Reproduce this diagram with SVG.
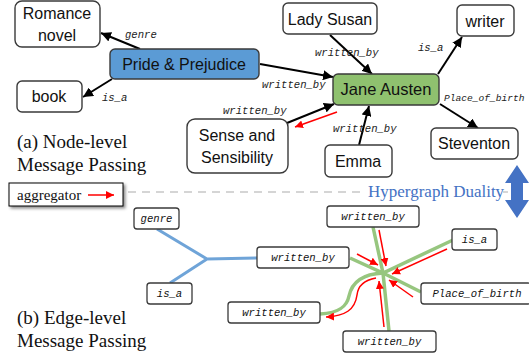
<svg xmlns="http://www.w3.org/2000/svg" width="529" height="354" viewBox="0 0 529 354">
<style>
.nb{fill:#fff;stroke:#3a3a3a;stroke-width:1.4}
.nt{font-family:"Liberation Sans",Arial,sans-serif;font-size:16px;fill:#111;text-anchor:middle}
.lb{font-family:"Liberation Mono","Courier New",monospace;font-style:italic;font-size:10.6px;fill:#222}
.eb{fill:#fff;stroke:#3a3a3a;stroke-width:1.3}
.et{font-family:"Liberation Mono","Courier New",monospace;font-style:italic;font-size:10.6px;fill:#111;text-anchor:middle}
.cap{font-family:"Liberation Serif","Times New Roman",serif;font-size:19px;fill:#111}
.ka{stroke:#000;stroke-width:2;fill:none;marker-end:url(#ah)}
.ra{stroke:#ff0000;stroke-width:1.5;fill:none;marker-end:url(#rh)}
.bl{stroke:#6fa4d8;stroke-width:3;fill:none}
.gl{stroke:#97c67f;stroke-width:3.5;fill:none}
</style>
<defs>
<marker id="ah" markerUnits="userSpaceOnUse" markerWidth="12" markerHeight="10" refX="10" refY="5" orient="auto">
<path d="M0,0 L10,5 L0,10 Z" fill="#000"/>
</marker>
<marker id="rh" markerUnits="userSpaceOnUse" markerWidth="9" markerHeight="8" refX="8" refY="4" orient="auto">
<path d="M0,0 L8,4 L0,8 Z" fill="#ff0000"/>
</marker>
<filter id="sh" x="-10%" y="-30%" width="130%" height="180%">
<feDropShadow dx="2" dy="2" stdDeviation="1.5" flood-color="#000" flood-opacity="0.45"/>
</filter>
</defs>

<g id="connectors">
<line class="ka" x1="140" y1="49" x2="101" y2="33"/>
<line class="ka" x1="112" y1="79" x2="83" y2="97"/>
<line class="ka" x1="260" y1="64" x2="333" y2="77"/>
<line class="ka" x1="287" y1="123" x2="334" y2="104"/>
<line class="ka" x1="330" y1="35" x2="372" y2="74"/>
<line class="ka" x1="438" y1="74" x2="462" y2="37"/>
<line class="ka" x1="440" y1="104" x2="478" y2="128"/>
<line class="ka" x1="359" y1="145" x2="369" y2="106"/>
<line class="ra" x1="337" y1="112" x2="295" y2="127"/>
<text class="lb" x="125" y="38">genre</text>
<text class="lb" x="102" y="101">is_a</text>
<text class="lb" x="262" y="88">written_by</text>
<text class="lb" x="223" y="114">written_by</text>
<text class="lb" x="315" y="56">written_by</text>
<text class="lb" x="418" y="51">is_a</text>
<text class="lb" x="444" y="101" style="font-size:9.6px">Place_of_birth</text>
<text class="lb" x="333" y="132">written_by</text>

<line x1="128" y1="192" x2="360" y2="192" stroke="#c8c8c8" stroke-width="1.5" stroke-dasharray="8,6"/>
<line x1="503" y1="192" x2="508" y2="192" stroke="#c8c8c8" stroke-width="1.5"/>

<path class="bl" d="M157,229 L207,259 L258,258 M207,259 L170,283"/>
<path class="gl" d="M373,227 L383,273 L389,331 M350,258 L383,273 L453,240 M421,292 L383,273"/>
<path class="gl" d="M320,314 C340,313 347,306 349,296 C352,282 362,274 383,273"/>
<line class="ra" x1="379" y1="230" x2="386" y2="266"/>
<line class="ra" x1="357" y1="254" x2="378" y2="265"/>
<line class="ra" x1="447" y1="249" x2="392" y2="274"/>
<line class="ra" x1="413" y1="297" x2="389" y2="280"/>
<line class="ra" x1="384" y1="327" x2="379" y2="281"/>
<path class="ra" d="M376,278 C365,280 358,285 357,295 C355,310 345,316 326,317"/>
</g>

<g id="romance"><rect class="nb" x="15" y="1" width="85" height="46" rx="7"/><text class="nt" x="57" y="19">Romance</text><text class="nt" x="57" y="41">novel</text></g>
<g id="pride"><rect x="110" y="49" width="149" height="30" rx="5" fill="#5b9bd5" stroke="#3a3a3a" stroke-width="1.4"/><text class="nt" x="184" y="70">Pride &amp; Prejudice</text></g>
<g id="book"><rect class="nb" x="17" y="81" width="65" height="31" rx="5"/><text class="nt" x="49" y="102">book</text></g>
<g id="lady-susan"><rect class="nb" x="283" y="3" width="94" height="31" rx="5"/><text class="nt" x="330" y="25">Lady Susan</text></g>
<g id="writer"><rect class="nb" x="457" y="5" width="57" height="31" rx="5"/><text class="nt" x="485" y="27">writer</text></g>
<g id="jane-austen"><rect x="333" y="74" width="106" height="31" rx="5" fill="#8fc16f" stroke="#3a3a3a" stroke-width="1.4"/><text class="nt" x="386" y="95" style="font-size:16.5px">Jane Austen</text></g>
<g id="steventon"><rect class="nb" x="431" y="128" width="87" height="31" rx="5"/><text class="nt" x="474" y="149">Steventon</text></g>
<g id="emma"><rect class="nb" x="325" y="145" width="67" height="32" rx="5"/><text class="nt" x="358" y="167">Emma</text></g>
<g id="sense"><rect class="nb" x="187" y="119" width="101" height="54" rx="8"/><text class="nt" x="237" y="141">Sense and</text><text class="nt" x="237" y="163">Sensibility</text></g>

<g id="caption-a"><text class="cap" x="17" y="148">(a) Node-level</text><text class="cap" x="17" y="171">Message Passing</text></g>
<g id="caption-b"><text class="cap" x="17" y="324">(b) Edge-level</text><text class="cap" x="17" y="347">Message Passing</text></g>

<g id="aggregator"><rect x="9" y="183" width="114" height="23" fill="#fff" stroke="#000" stroke-width="1" filter="url(#sh)"/><text x="17" y="200" font-family="'Liberation Serif','Times New Roman',serif" font-size="15" fill="#111">aggregator</text><line class="ra" x1="88" y1="195" x2="114" y2="195"/></g>

<g id="duality"><text x="368" y="197" font-family="'Liberation Serif','Times New Roman',serif" font-size="17" fill="#4472c4">Hypergraph Duality</text><polygon points="517,165 529,183 523,183 523,200 529,200 517,218 505,200 511,200 511,183 505,183" fill="#4472c4"/></g>

<g id="e-genre"><rect class="eb" x="134" y="208" width="45" height="21" rx="3"/><text class="et" x="156.5" y="222">genre</text></g>
<g id="e-isa-left"><rect class="eb" x="147" y="283" width="45" height="21" rx="3"/><text class="et" x="169.5" y="297">is_a</text></g>
<g id="e-wb-mid"><rect class="eb" x="257" y="247" width="92" height="21" rx="3"/><text class="et" x="303" y="261">written_by</text></g>
<g id="e-wb-top"><rect class="eb" x="327" y="206" width="92" height="21" rx="3"/><text class="et" x="373" y="220">written_by</text></g>
<g id="e-isa-right"><rect class="eb" x="452" y="229" width="45" height="21" rx="3"/><text class="et" x="474.5" y="243">is_a</text></g>
<g id="e-pob"><rect class="eb" x="421" y="283" width="110" height="21" rx="3"/><text class="et" x="477" y="297">Place_of_birth</text></g>
<g id="e-wb-left"><rect class="eb" x="228" y="302" width="92" height="21" rx="3"/><text class="et" x="274" y="316">written_by</text></g>
<g id="e-wb-bottom"><rect class="eb" x="343" y="331" width="93" height="21" rx="3"/><text class="et" x="389.5" y="345">written_by</text></g>
</svg>
